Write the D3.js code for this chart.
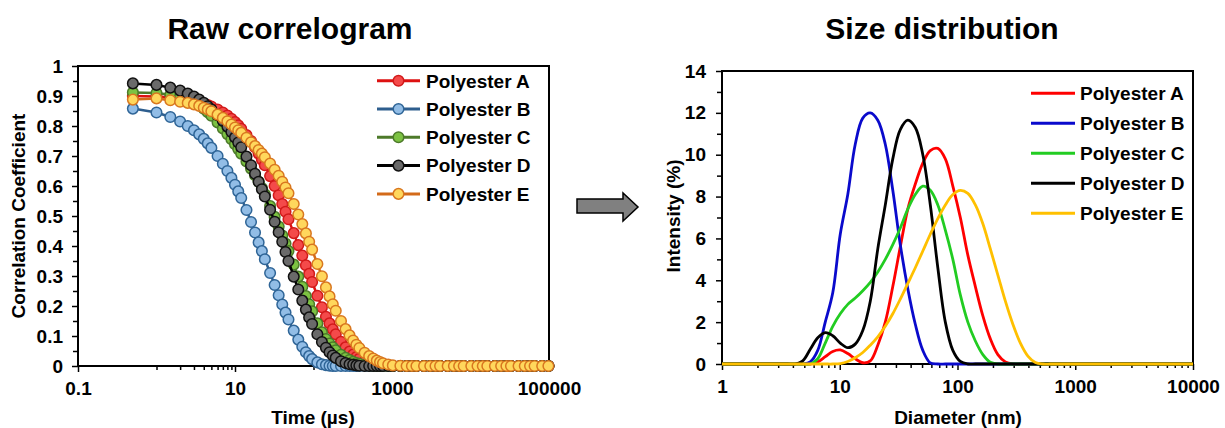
<!DOCTYPE html>
<html lang="en">
<head>
<meta charset="UTF-8">
<script src="https://d3js.org/d3.v7.min.js"></script>
<style>
body { margin: 0; background: #fff; }
svg text { font-family: "Liberation Sans", Arial, sans-serif; font-weight: bold; fill: #000; }
</style>
</head>
<body>
<svg id="chart" width="1225" height="428"></svg>
<script>
// ---- raw correlogram (left) ----
const lagTime = [0.5, 1, 1.5, 2, 2.5, 3, 3.5, 4, 4.5, 5,
  6, 7, 8, 9, 10, 11, 12, 14, 16, 18,
  20, 22, 24, 28, 32, 36, 40, 44, 48, 56,
  64, 72, 80, 88, 96, 112, 128, 144, 160, 176,
  192, 224, 256, 288, 320, 352, 384, 448, 512, 576,
  640, 704, 768, 896, 1024, 1280, 1536, 1792, 2048, 2560,
  3072, 3584, 4096, 5120, 6144, 7168, 8192, 10240, 12288, 14336,
  16384, 20480, 24576, 28672, 32768, 40960, 49152, 57344, 65536, 81920,
  98304];

const corrA = [0.900, 0.898, 0.895, 0.891, 0.887, 0.883, 0.879, 0.875, 0.870, 0.865,
  0.855, 0.845, 0.835, 0.824, 0.813, 0.802, 0.791, 0.770, 0.750, 0.729,
  0.708, 0.688, 0.669, 0.633, 0.600, 0.569, 0.540, 0.514, 0.489, 0.443,
  0.403, 0.368, 0.336, 0.307, 0.280, 0.234, 0.196, 0.164, 0.142, 0.122,
  0.106, 0.081, 0.062, 0.048, 0.038, 0.030, 0.024, 0.015, 0.010, 0.006,
  0.004, 0.002, 0.001, 0, 0, 0, 0, 0, 0, 0,
  0, 0, 0, 0, 0, 0, 0, 0, 0, 0,
  0, 0, 0, 0, 0, 0, 0, 0, 0, 0,
  0];
const corrB = [0.858, 0.845, 0.830, 0.815, 0.800, 0.786, 0.772, 0.757, 0.742, 0.727,
  0.700, 0.674, 0.650, 0.627, 0.604, 0.582, 0.560, 0.520, 0.480, 0.445,
  0.412, 0.383, 0.356, 0.310, 0.270, 0.236, 0.205, 0.178, 0.155, 0.118,
  0.088, 0.064, 0.046, 0.033, 0.023, 0.012, 0.006, 0.003, 0.001, 0,
  0, 0, 0, 0, 0, 0, 0, 0, 0, 0,
  0, 0, 0, 0, 0, 0, 0, 0, 0, 0,
  0, 0, 0, 0, 0, 0, 0, 0, 0, 0,
  0, 0, 0, 0, 0, 0, 0, 0, 0, 0,
  0];
const corrC = [0.912, 0.910, 0.904, 0.897, 0.889, 0.880, 0.870, 0.858, 0.846, 0.834,
  0.812, 0.792, 0.773, 0.756, 0.739, 0.723, 0.708, 0.682, 0.658, 0.636,
  0.614, 0.593, 0.572, 0.533, 0.497, 0.465, 0.435, 0.408, 0.383, 0.338,
  0.298, 0.264, 0.233, 0.206, 0.182, 0.142, 0.112, 0.090, 0.075, 0.062,
  0.052, 0.037, 0.027, 0.020, 0.014, 0.010, 0.007, 0.004, 0.002, 0.001,
  0, 0, 0, 0, 0, 0, 0, 0, 0, 0,
  0, 0, 0, 0, 0, 0, 0, 0, 0, 0,
  0, 0, 0, 0, 0, 0, 0, 0, 0, 0,
  0];
const corrD = [0.942, 0.937, 0.928, 0.918, 0.908, 0.898, 0.888, 0.877, 0.866, 0.856,
  0.836, 0.817, 0.798, 0.780, 0.762, 0.745, 0.729, 0.698, 0.669, 0.641,
  0.614, 0.589, 0.565, 0.521, 0.481, 0.446, 0.414, 0.380, 0.350, 0.298,
  0.255, 0.218, 0.188, 0.162, 0.140, 0.106, 0.080, 0.061, 0.046, 0.035,
  0.027, 0.016, 0.010, 0.006, 0.004, 0.002, 0.001, 0, 0, 0,
  0, 0, 0, 0, 0, 0, 0, 0, 0, 0,
  0, 0, 0, 0, 0, 0, 0, 0, 0, 0,
  0, 0, 0, 0, 0, 0, 0, 0, 0, 0,
  0];
const corrE = [0.888, 0.892, 0.886, 0.881, 0.877, 0.872, 0.867, 0.861, 0.855, 0.849,
  0.838, 0.827, 0.816, 0.805, 0.795, 0.786, 0.777, 0.761, 0.746, 0.733,
  0.720, 0.708, 0.696, 0.675, 0.654, 0.634, 0.614, 0.595, 0.576, 0.540,
  0.505, 0.473, 0.442, 0.414, 0.388, 0.340, 0.299, 0.262, 0.232, 0.206,
  0.184, 0.150, 0.123, 0.102, 0.085, 0.071, 0.060, 0.044, 0.033, 0.025,
  0.018, 0.013, 0.009, 0.005, 0.002, 0.001, 0, 0, 0, 0,
  0, 0, 0, 0, 0, 0, 0, 0, 0, 0,
  0, 0, 0, 0, 0, 0, 0, 0, 0, 0,
  0];

// ---- size distribution (right) ----
const diameter = [0.9649, 1.117, 1.294, 1.499, 1.736, 2.01, 2.328, 2.696, 3.122, 3.615,
  4.187, 4.849, 5.615, 6.503, 7.531, 8.721, 10.1, 11.7, 13.54, 15.69,
  18.17, 21.04, 24.36, 28.21, 32.67, 37.84, 43.82, 50.75, 58.77, 68.06,
  78.82, 91.28, 105.7, 122.4, 141.8, 164.2, 190.1, 220.2, 255.0, 295.3,
  342.0, 396.1, 458.7, 531.2, 615.1, 712.4, 825.0, 955.4, 1106, 1281,
  1484, 1718, 1990, 2305, 2669, 3091, 3580, 4145, 4801, 5560,
  6439, 7456, 8635, 10000];

const sizeA = [0, 0, 0, 0, 0, 0, 0, 0, 0, 0,
  0, 0, 0, 0.1, 0.35, 0.6, 0.67, 0.5, 0.25, 0.06,
  0.15, 0.9, 2.0, 3.7, 5.6, 7.4, 8.6, 9.6, 10.2, 10.3,
  9.8, 8.5, 7.0, 5.2, 3.7, 2.3, 1.2, 0.45, 0.1, 0,
  0, 0, 0, 0, 0, 0, 0, 0, 0, 0,
  0, 0, 0, 0, 0, 0, 0, 0, 0, 0,
  0, 0, 0, 0];
const sizeB = [0, 0, 0, 0, 0, 0, 0, 0, 0, 0,
  0, 0, 0.1, 0.65, 2.0, 3.4, 6.2, 8.1, 10.5, 11.75,
  12.0, 11.65, 10.5, 8.3, 5.7, 3.6, 1.9, 0.65, 0.05, 0,
  0, 0, 0, 0, 0, 0, 0, 0, 0, 0,
  0, 0, 0, 0, 0, 0, 0, 0, 0, 0,
  0, 0, 0, 0, 0, 0, 0, 0, 0, 0,
  0, 0, 0, 0];
const sizeC = [0, 0, 0, 0, 0, 0, 0, 0, 0, 0,
  0, 0, 0, 0.25, 1.0, 1.8, 2.4, 2.85, 3.15, 3.5,
  3.9, 4.4, 5.0, 5.7, 6.5, 7.4, 8.1, 8.5, 8.3, 7.6,
  6.4, 5.0, 3.3, 2.0, 1.1, 0.45, 0.08, 0, 0, 0,
  0, 0, 0, 0, 0, 0, 0, 0, 0, 0,
  0, 0, 0, 0, 0, 0, 0, 0, 0, 0,
  0, 0, 0, 0];
const sizeD = [0, 0, 0, 0, 0, 0, 0, 0, 0, 0,
  0, 0.15, 0.7, 1.25, 1.5, 1.35, 1.0, 0.78, 0.95, 1.6,
  3.0, 5.5, 7.6, 9.8, 11.2, 11.65, 11.3, 10.0, 7.6, 4.6,
  2.0, 0.65, 0.12, 0, 0, 0, 0, 0, 0, 0,
  0, 0, 0, 0, 0, 0, 0, 0, 0, 0,
  0, 0, 0, 0, 0, 0, 0, 0, 0, 0,
  0, 0, 0, 0];
const sizeE = [0, 0, 0, 0, 0, 0, 0, 0, 0, 0,
  0, 0, 0, 0, 0, 0, 0.02, 0.12, 0.3, 0.55,
  0.9, 1.3, 1.8, 2.4, 3.1, 3.85, 4.6, 5.4, 6.2, 6.95,
  7.6, 8.1, 8.3, 8.15, 7.6, 6.7, 5.5, 4.25, 3.0, 1.9,
  1.0, 0.38, 0.07, 0, 0, 0, 0, 0, 0, 0,
  0, 0, 0, 0, 0, 0, 0, 0, 0, 0,
  0, 0, 0, 0];

const seriesNames = ["Polyester A", "Polyester B", "Polyester C", "Polyester D", "Polyester E"];

const corrTicks = [0, 0.1, 0.2, 0.3, 0.4, 0.5, 0.6, 0.7, 0.8, 0.9, 1];
const corrMinor = [0.05, 0.15, 0.25, 0.35, 0.45, 0.55, 0.65, 0.75, 0.85, 0.95];
const timeTicks = [0.1, 10, 1000, 100000];
const timeMinor = [1, 2, 3, 4, 5, 6, 7, 8, 9, 100, 200, 300, 400, 500, 600, 700, 800, 900,
  10000, 20000, 30000, 40000, 50000, 60000, 70000, 80000, 90000];
const sizeTicks = [0, 2, 4, 6, 8, 10, 12, 14];
const sizeMinor = [1, 3, 5, 7, 9, 11, 13];
const diamTicks = [1, 10, 100, 1000, 10000];
const diamMinor = [2, 3, 4, 5, 6, 7, 8, 9, 20, 30, 40, 50, 60, 70, 80, 90,
  200, 300, 400, 500, 600, 700, 800, 900, 2000, 3000, 4000, 5000, 6000, 7000, 8000, 9000];

// colours
var lineCol   = ["#dd1111", "#2e5e8e", "#4d7a2a", "#000000", "#d36a19"];
var markFill  = ["#f44a4a", "#92bde6", "#7cc242", "#6a6a6a", "#ffd75c"];
var markEdge  = ["#d21a1a", "#2f6597", "#4d7a2a", "#111111", "#d9771f"];
var sizeCol   = ["#ff0000", "#0a0acc", "#22cc22", "#000000", "#ffc000"];

var corrSeries = [corrA, corrB, corrC, corrD, corrE];
var sizeSeries = [sizeA, sizeB, sizeC, sizeD, sizeE];

var svg = d3.select("#chart");

// ================= LEFT =================
var xL = d3.scaleLog().domain([0.1, 100000]).range([78, 549]);
var yL = d3.scaleLinear().domain([0, 1]).range([366, 66]);

svg.append("text").attr("x", 290).attr("y", 39).attr("text-anchor", "middle")
  .style("font-size", "30px").text("Raw correlogram");

function styleAxis(g) {
  g.select(".domain").remove();
  g.selectAll(".tick line").attr("stroke", "#000").attr("stroke-width", 1.5);
  g.selectAll(".tick text").style("font-size", "19px").style("font-family", "'Liberation Sans', Arial, sans-serif")
    .style("font-weight", "bold").attr("fill", "#000");
}

// minor ticks first
svg.append("g").attr("transform", "translate(78,0)")
  .call(d3.axisLeft(yL).tickValues(corrMinor).tickSize(5).tickFormat(""))
  .call(styleAxis);
svg.append("g").attr("transform", "translate(78,0)")
  .call(d3.axisLeft(yL).tickValues(corrTicks).tickSize(6).tickPadding(9).tickFormat(d3.format("")))
  .call(styleAxis);
svg.append("g").attr("transform", "translate(0,366)")
  .call(d3.axisBottom(xL).tickValues(timeMinor).tickSize(4).tickFormat(""))
  .call(styleAxis);
svg.append("g").attr("transform", "translate(0,366)")
  .call(d3.axisBottom(xL).tickValues(timeTicks).tickSize(6).tickPadding(10).tickFormat(d3.format("")))
  .call(styleAxis);

svg.append("rect").attr("x", 78).attr("y", 66).attr("width", 549 - 78).attr("height", 366 - 66)
  .attr("fill", "none").attr("stroke", "#000").attr("stroke-width", 2);

svg.append("text").attr("x", 313).attr("y", 424).attr("text-anchor", "middle")
  .style("font-size", "19px").text("Time (µs)");
svg.append("text").attr("transform", "translate(25,216) rotate(-90)").attr("text-anchor", "middle")
  .style("font-size", "19px").text("Correlation Coefficient");

var lineL = d3.line()
  .x(function(d) { return xL(d[0]); })
  .y(function(d) { return yL(d[1]); });

corrSeries.forEach(function(vals, i) {
  var pts = lagTime.map(function(t, k) { return [t, vals[k]]; });
  var g = svg.append("g");
  g.append("path").datum(pts)
    .attr("fill", "none").attr("stroke", lineCol[i]).attr("stroke-width", 2.5)
    .attr("d", lineL);
  g.selectAll("circle").data(pts).enter().append("circle")
    .attr("cx", function(d) { return xL(d[0]); })
    .attr("cy", function(d) { return yL(d[1]); })
    .attr("r", 5.3)
    .attr("fill", markFill[i]).attr("stroke", markEdge[i]).attr("stroke-width", 1.5);
});

// legend left
seriesNames.forEach(function(name, i) {
  var y = 80.7 + i * 28.3;
  svg.append("line").attr("x1", 377).attr("x2", 420).attr("y1", y).attr("y2", y)
    .attr("stroke", lineCol[i]).attr("stroke-width", 3);
  svg.append("circle").attr("cx", 398.5).attr("cy", y).attr("r", 5.3)
    .attr("fill", markFill[i]).attr("stroke", markEdge[i]).attr("stroke-width", 1.5);
  svg.append("text").attr("x", 426).attr("y", y).attr("dy", "0.36em")
    .style("font-size", "19px").text(name);
});

// ================= ARROW =================
svg.append("polygon")
  .attr("points", "577,199 623,199 623,193 638,207 623,221 623,213 577,213")
  .attr("fill", "#808080").attr("stroke", "#000").attr("stroke-width", 1.5);

// ================= RIGHT =================
var xR = d3.scaleLog().domain([1, 10000]).range([722, 1193]);
var yR = d3.scaleLinear().domain([0, 14]).range([364, 71]);

svg.append("text").attr("x", 942).attr("y", 39).attr("text-anchor", "middle")
  .style("font-size", "30px").text("Size distribution");

svg.append("g").attr("transform", "translate(722,0)")
  .call(d3.axisLeft(yR).tickValues(sizeMinor).tickSize(5).tickFormat(""))
  .call(styleAxis);
svg.append("g").attr("transform", "translate(722,0)")
  .call(d3.axisLeft(yR).tickValues(sizeTicks).tickSize(6).tickPadding(10).tickFormat(d3.format("")))
  .call(styleAxis);
svg.append("g").attr("transform", "translate(0,364)")
  .call(d3.axisBottom(xR).tickValues(diamMinor).tickSize(4).tickFormat(""))
  .call(styleAxis);
svg.append("g").attr("transform", "translate(0,364)")
  .call(d3.axisBottom(xR).tickValues(diamTicks).tickSize(6).tickPadding(10).tickFormat(d3.format("")))
  .call(styleAxis);

svg.append("rect").attr("x", 722).attr("y", 71).attr("width", 1193 - 722).attr("height", 364 - 71)
  .attr("fill", "none").attr("stroke", "#000").attr("stroke-width", 2);

svg.append("text").attr("x", 958).attr("y", 424).attr("text-anchor", "middle")
  .style("font-size", "19px").text("Diameter (nm)");
svg.append("text").attr("transform", "translate(680,216) rotate(-90)").attr("text-anchor", "middle")
  .style("font-size", "19px").text("Intensity (%)");

svg.append("clipPath").attr("id", "clipR")
  .append("rect").attr("x", 722).attr("y", 60).attr("width", 1193 - 722).attr("height", 310);

var lineR = d3.line()
  .x(function(d) { return xR(d[0]); })
  .y(function(d) { return yR(d[1]); })
  .curve(d3.curveCatmullRom.alpha(0.5));

var gR = svg.append("g").attr("clip-path", "url(#clipR)");
sizeSeries.forEach(function(vals, i) {
  var pts = diameter.map(function(dm, k) { return [dm, vals[k]]; });
  gR.append("path").datum(pts)
    .attr("fill", "none").attr("stroke", sizeCol[i]).attr("stroke-width", 2.8)
    .attr("d", lineR);
});

seriesNames.forEach(function(name, i) {
  var y = 93.3 + i * 30;
  svg.append("line").attr("x1", 1031).attr("x2", 1075).attr("y1", y).attr("y2", y)
    .attr("stroke", sizeCol[i]).attr("stroke-width", 3);
  svg.append("text").attr("x", 1080).attr("y", y).attr("dy", "0.36em")
    .style("font-size", "19px").text(name);
});
</script>
</body>
</html>
